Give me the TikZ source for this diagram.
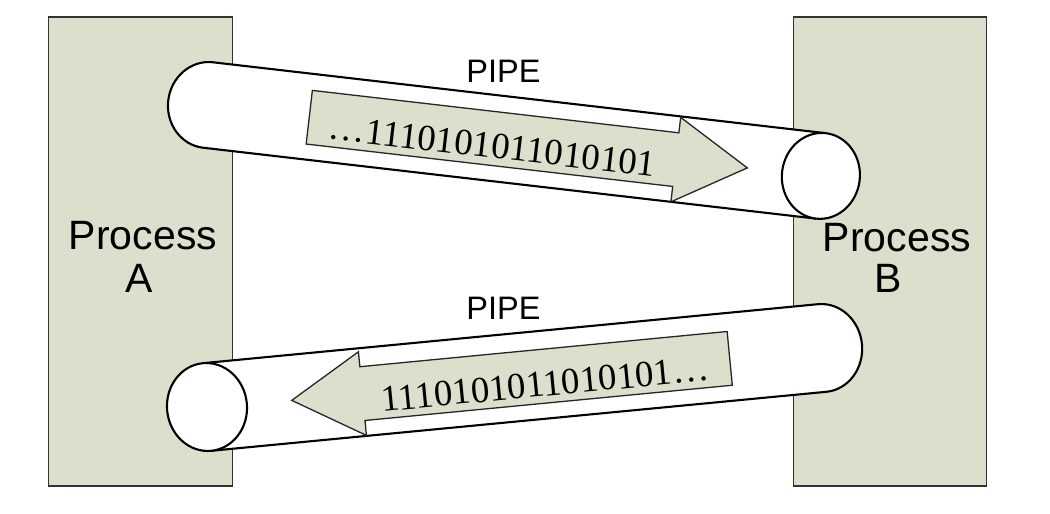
\documentclass[tikz,border=0pt]{standalone}
\usepackage{fontspec}
\setmainfont{Liberation Serif}
\newfontfamily\arialf{Liberation Sans}
\definecolor{khaki}{RGB}{221,223,204}
\begin{document}
\begin{tikzpicture}[x=1pt,y=-1pt,
  procbox/.style={draw=black!80, line width=1.5pt, fill=khaki, inner sep=0pt,
    minimum width=184pt, minimum height=469pt},
  pipeline/.style={draw=black, line width=2.1pt},
  flowarrow/.style={draw=black!85, line width=1.3pt, fill=khaki, line join=miter},
  proclbl/.style={font=\arialf\fontsize{41}{44}\selectfont, text=black, inner sep=0pt, anchor=base},
  pipelbl/.style={font=\arialf\fontsize{32.5}{36}\selectfont, text=black, inner sep=0pt, anchor=base},
  bits/.style={font=\fontsize{37}{40}\selectfont, text=black, inner sep=0pt, anchor=base}]
\useasboundingbox (0,0) rectangle (1050,514);
% process boxes
\node[procbox] (procA) at (140.5,251.5) {};
\node[procbox, minimum width=193pt] (procB) at (890,251.5) {};
% top pipe
\begin{scope}[shift={(208,105)}, rotate=-6.6]
  \fill[white] (617,-43) -- (0,-43) arc[start angle=90, end angle=270, x radius=40pt, y radius=43pt] -- (617,43) -- cycle;
  \draw[pipeline] (617,-43) -- (0,-43) arc[start angle=90, end angle=270, x radius=40pt, y radius=43pt] -- (617,43);
  \draw[pipeline, fill=white] (617,0) ellipse [x radius=39pt, y radius=43pt];
  \draw[flowarrow] (102,-26.5) -- (471,-26.5) -- (471,-42) -- (543,0.5) -- (471,43) -- (471,27.5) -- (102,27.5) -- cycle;
  \node[bits, rotate=-6.6] (bitsTop) at (287,20) {…1110101011010101};
\end{scope}
% bottom pipe
\begin{scope}[shift={(207,407)}, rotate=5.48]
  \fill[white] (0,-44) -- (618,-44) arc[start angle=90, end angle=-90, x radius=40pt, y radius=44pt] -- (0,44) -- cycle;
  \draw[pipeline] (0,-44) -- (618,-44) arc[start angle=90, end angle=-90, x radius=40pt, y radius=44pt] -- (0,44);
  \draw[pipeline, fill=white] (0,0) ellipse [x radius=40pt, y radius=44pt];
  \draw[flowarrow] (525,-25.5) -- (156,-25.5) -- (156,-40.5) -- (85,1.5) -- (156,43.5) -- (156,28.5) -- (525,28.5) -- cycle;
  \node[bits, rotate=5.48] (bitsBot) at (339,21.5) {1110101011010101…};
\end{scope}
% labels
\node[pipelbl] (pipeTop) at (503.5,82) {PIPE};
\node[pipelbl] (pipeBot) at (503.5,319.5) {PIPE};
\node[proclbl] (labA1) at (143,249) {Process};
\node[proclbl] (labA2) at (139,292) {A};
\node[proclbl] (labB1) at (897,251) {Process};
\node[proclbl] (labB2) at (888.5,292) {B};
\end{tikzpicture}
\end{document}
